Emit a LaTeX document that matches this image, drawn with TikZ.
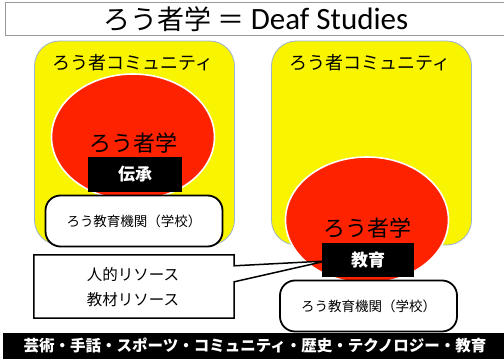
\documentclass[tikz,border=0pt]{standalone}
\usepackage{fontspec}
\setmainfont{Noto Sans CJK JP}
\newfontfamily\latinfont{Carlito}
\usetikzlibrary{shapes.geometric,calc}
\definecolor{ylw}{HTML}{F9F400}
\definecolor{rd}{HTML}{FF2200}
\definecolor{ylwedge}{HTML}{9DB3CF}
\newcommand{\fs}[1]{\fontsize{#1}{#1}\selectfont}
\tikzset{
  combox/.style={draw=ylwedge, line width=0.8pt, fill=ylw, rounded corners=25pt, minimum width=200pt, minimum height=204pt, inner sep=0pt},
  redell/.style={ellipse, draw=white, line width=1.6pt, fill=rd, minimum width=163pt, minimum height=126pt, inner sep=0pt},
  blackbox/.style={fill=black, text=white, font=\fs{17}\bfseries, inner sep=0pt},
  schoolbox/.style={draw=black, line width=1.8pt, fill=white, rounded corners=15pt, minimum width=177pt, minimum height=51pt, inner sep=0pt, font=\fs{13.5}},
  lbl/.style={inner sep=0pt},
}
\begin{document}
\begin{tikzpicture}[x=1pt,y=-1pt]
\useasboundingbox (0,0) rectangle (504,359);
% title
\node[draw=gray!80, line width=1.2pt, fill=white, minimum width=502pt, minimum height=33pt, inner sep=0pt, anchor=north west] (title) at (5,2) {};
\node[lbl] (titletext) at (256,19) {\fs{27}ろう者学 ＝ {\latinfont\fs{31}Deaf Studies}};
% community boxes
\node[combox] (comL) at (134.5,143) {};
\node[combox] (comR) at (371.5,143) {};
\node[lbl, font=\fs{18}] (comLt) at (133,63) {ろう者コミュニティ};
\node[lbl, font=\fs{18}] (comRt) at (370,63) {ろう者コミュニティ};
% red ellipses
\node[redell] (ellL) at (133,137) {};
\node[redell] (ellR) at (367,220) {};
\node[lbl, font=\fs{22}] (ellLt) at (133,143) {ろう者学};
\node[lbl, font=\fs{22}] (ellRt) at (367,228) {ろう者学};
% school boxes
\node[schoolbox] (schL) at (134,221) {ろう教育機関（学校）};
\node[schoolbox] (schR) at (368.5,306) {ろう教育機関（学校）};
% callout
\node[minimum width=200pt, minimum height=63pt, inner sep=0pt] (co) at (134,286.5) {};
\coordinate (tip) at (326,261);
\draw[line width=1.5pt, fill=white, line join=miter]
  (co.north west) -- (co.north east) -- ($(co.north east)+(0,11)$) -- (tip)
  -- ($(co.north east)+(0,27)$) -- (co.south east) -- (co.south west) -- cycle;
\node[lbl, font=\fs{15.5}] (co1) at (133,275) {人的リソース};
\node[lbl, font=\fs{15.5}] (co2) at (133,300) {教材リソース};
% black boxes
\node[blackbox, minimum width=94pt, minimum height=35pt] (denL) at (135,174.5) {伝承};
\node[blackbox, minimum width=92pt, minimum height=34pt] (eduR) at (368,260) {教育};
% bottom bar
\node[fill=black, minimum width=501pt, minimum height=26pt, inner sep=0pt, anchor=north west] (bar) at (3,333) {};
\node[lbl, text=white, font=\fs{15.5}\bfseries] (bart) at (255,346) {芸術・手話・スポーツ・コミュニティ・歴史・テクノロジー・教育};
\end{tikzpicture}
\end{document}
